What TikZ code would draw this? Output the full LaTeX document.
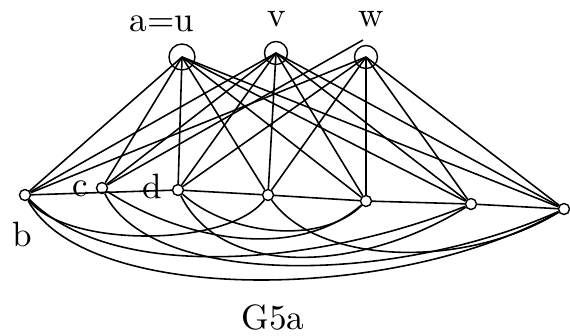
\documentclass[tikz,border=0pt]{standalone}
\usetikzlibrary{positioning}
\tikzset{
  topvert/.style={circle, draw, inner sep=0pt, minimum size=0.23cm},
  botvert/.style={circle, draw, inner sep=0pt, minimum size=0.11cm},
  vlabel/.style={font=\normalsize, inner sep=0pt},
  gedge/.style={line width=0.45pt},
}
\begin{document}
\begin{tikzpicture}[x=0.01cm, y=-0.01cm]
  \useasboundingbox (0,0) rectangle (570,335);
  % top vertices
  \node[topvert, minimum size=0.26cm] (u) at (182,57) {};
  \node[topvert] (v) at (276,53) {};
  \node[topvert] (w) at (366,57) {};
  % bottom vertices
  \node[botvert] (b) at (25,195) {};
  \node[botvert] (c) at (102,188) {};
  \node[botvert] (d) at (178,190) {};
  \node[botvert] (e) at (268,195) {};
  \node[botvert] (f) at (366,201) {};
  \node[botvert] (g) at (471,204) {};
  \node[botvert] (h) at (564,209) {};
  % labels
  \node[vlabel] (lu) at (162,24) {a=u};
  \node[vlabel] (lv) at (277,19) {v};
  \node[vlabel] (lw) at (371,19) {w};
  \node[vlabel] (lb) at (22,234) {b};
  \node[vlabel] (lc) at (80,189) {c};
  \node[vlabel] (ld) at (152,186) {d};
  \node[vlabel] (title) at (273,317) {G5a};
  % top to bottom
  \foreach \t in {u,v}
    \foreach \s in {b,c,d,e,f,g,h}
      \draw[gedge] (\t.center) -- (\s);
  \foreach \s in {b,d,e,f,g,h}
    \draw[gedge] (w.center) -- (\s);
  \coordinate (wtip) at (363,40);
  \draw[gedge] (c) -- (wtip);
  % bottom path
  \draw[gedge] (b) -- (d) -- (e) -- (f) -- (g) -- (h);
  % arcs below
  \draw[gedge] (b) .. controls (65,248) and (228,248) .. (e);
  \draw[gedge] (b) .. controls (115,285) and (321,264) .. (g);
  \draw[gedge] (b) .. controls (85,305) and (394,304) .. (h);
  \draw[gedge] (c) .. controls (182,240) and (296,262) .. (f);
  \draw[gedge] (c) .. controls (152,288) and (394,285) .. (h);
  \draw[gedge] (d) .. controls (228,235) and (321,246) .. (f);
  \draw[gedge] (d) .. controls (223,280) and (361,272) .. (g);
  \draw[gedge] (e) .. controls (318,265) and (464,270) .. (h);
\end{tikzpicture}
\end{document}
